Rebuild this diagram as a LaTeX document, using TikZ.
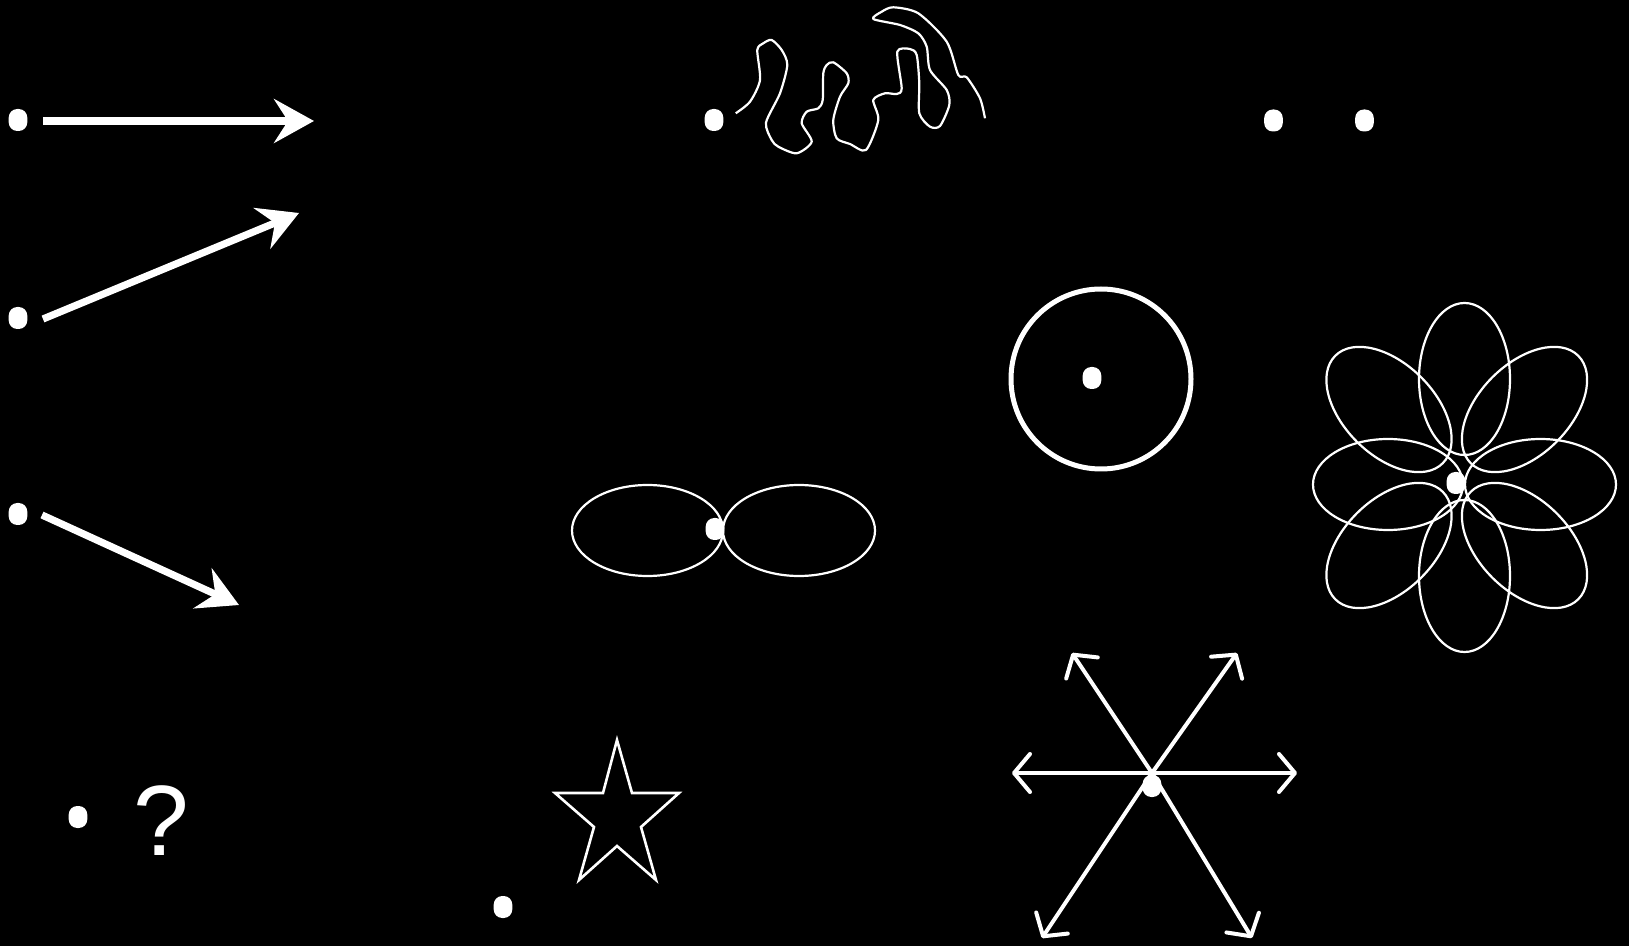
\documentclass[tikz,border=0pt]{standalone}
\usepackage{fontspec}
\newfontfamily\qfont{Liberation Sans}
\usetikzlibrary{arrows.meta}
\begin{document}
\begin{tikzpicture}[x=0.5pt,y=-0.5pt,
  dot/.style={fill=white,draw=none,rounded corners=4.3pt,minimum width=9.3pt,minimum height=11pt,inner sep=0pt},
  bigarrow/.style={white,line width=3.6pt,-{Stealth[length=20pt,width=22pt,inset=7pt]}},
  thinshape/.style={white,line width=1.1pt},
  ray/.style={white,line width=2pt,-{Straight Barb[length=8pt,width=19pt,round]}}]
\fill[black] (0,0) rectangle (1629,946);
\useasboundingbox (0,0) rectangle (1629,946);

% left column arrows
\node[dot] (d1) at (18,120) {};
\node[dot] (d2) at (18,318) {};
\node[dot] (d3) at (18,514) {};
\coordinate (t1) at (314,121);
\coordinate (t2) at (299,213);
\coordinate (t3) at (239,605);
\coordinate (s1) at (43,121);
\coordinate (s2) at (43,319);
\coordinate (s3) at (42,515);
\draw[bigarrow] (s1) -- (t1);
\draw[bigarrow] (s2) -- (t2);
\draw[bigarrow] (s3) -- (t3);

% question mark
\node[dot] (d4) at (78,817) {};
\node[white,inner sep=0pt,font=\qfont\fontsize{50}{50}\selectfont] (q) at (161,821) {?};

% squiggle
\node[dot] (d5) at (714,120) {};
\draw[thinshape,line join=round] plot[smooth,tension=0.45] coordinates {
(735.7,113.3) (750,101.7) (760,80) (757.3,50) (763.3,43.3) (771.7,40) (781.7,50) (787.3,65)
(780,93.3) (766,122.7) (771.7,140) (778.3,146.7) (796.7,153.3) (811.7,141.7) (801.7,123.3)
(806.7,111.7) (818.3,108.3) (822.7,100) (823.3,73.3) (826.7,65) (833.3,62.3) (846.7,73.3)
(848.3,83.3) (840,96.7) (833.3,120) (836.7,138.3) (850,144) (866,150) (878.3,120) (873.3,100)
(885,93.3) (896.7,94) (901.7,88.3) (897.3,51.7) (910,49) (916.7,55) (919.3,83.3) (919.3,113.3)
(930,126.7) (940,126) (949.3,105) (946.7,90) (930,70) (926.7,46.7) (918.3,33.3) (900,25)
(873.3,19) (881.7,11.7) (893.3,7.3) (918.3,13.3) (946.7,41.7) (958.3,75) (966.7,77.3)
(980,98.3) (985,118.3)};

% two dots top right
\node[dot] (d6) at (1273.5,120.5) {};
\node[dot] (d7) at (1364.5,120.5) {};

% circle
\node[draw=white,line width=2.5pt,circle,minimum size=90pt,inner sep=0pt] (circ) at (1101,379) {};
\node[dot] (d8) at (1092,378) {};

% two ellipses
\draw[thinshape] (647.5,530.5) ellipse [x radius=75.5, y radius=45.5];
\draw[thinshape] (799,530.5) ellipse [x radius=76, y radius=45.5];
\node[dot] (d9) at (715,529) {};

% flower
\draw[thinshape] (1464.5,379) ellipse [x radius=45.5, y radius=76];
\draw[thinshape] (1464.5,576) ellipse [x radius=45.5, y radius=76];
\draw[thinshape] (1388,484.5) ellipse [x radius=75, y radius=45.5];
\draw[thinshape] (1540.5,484.5) ellipse [x radius=75.5, y radius=45.5];
\draw[thinshape,rotate around={-45:(1389,409.5)}] (1389,409.5) ellipse [x radius=76, y radius=45.5];
\draw[thinshape,rotate around={45:(1524.5,409.5)}] (1524.5,409.5) ellipse [x radius=76, y radius=45.5];
\draw[thinshape,rotate around={45:(1389,545.5)}] (1389,545.5) ellipse [x radius=76, y radius=45.5];
\draw[thinshape,rotate around={-45:(1524.5,545.5)}] (1524.5,545.5) ellipse [x radius=76, y radius=45.5];
\node[dot] (d10) at (1456,483) {};

% star
\node[dot] (d11) at (503,907) {};
\draw[thinshape,line width=1.3pt,line join=miter] (617,740) -- (632,793) -- (679,793) -- (641,827) -- (656,880)
  -- (617,846) -- (579,880) -- (594,827) -- (555,793) -- (603,793) -- cycle;

% six arrows
\coordinate (c) at (1152,773);
\coordinate (rL) at (1012,773);
\coordinate (rR) at (1297,773);
\coordinate (rUL) at (1072,653);
\coordinate (rUR) at (1237,653);
\coordinate (rLL) at (1042,938);
\coordinate (rLR) at (1252,938);
\draw[ray] (c) -- (rL);
\draw[ray] (c) -- (rR);
\draw[ray] (c) -- (rUL);
\draw[ray] (c) -- (rUR);
\draw[ray] (c) -- (rLL);
\draw[ray] (c) -- (rLR);
\node[dot] (d12) at (1152,786) {};
\end{tikzpicture}
\end{document}
